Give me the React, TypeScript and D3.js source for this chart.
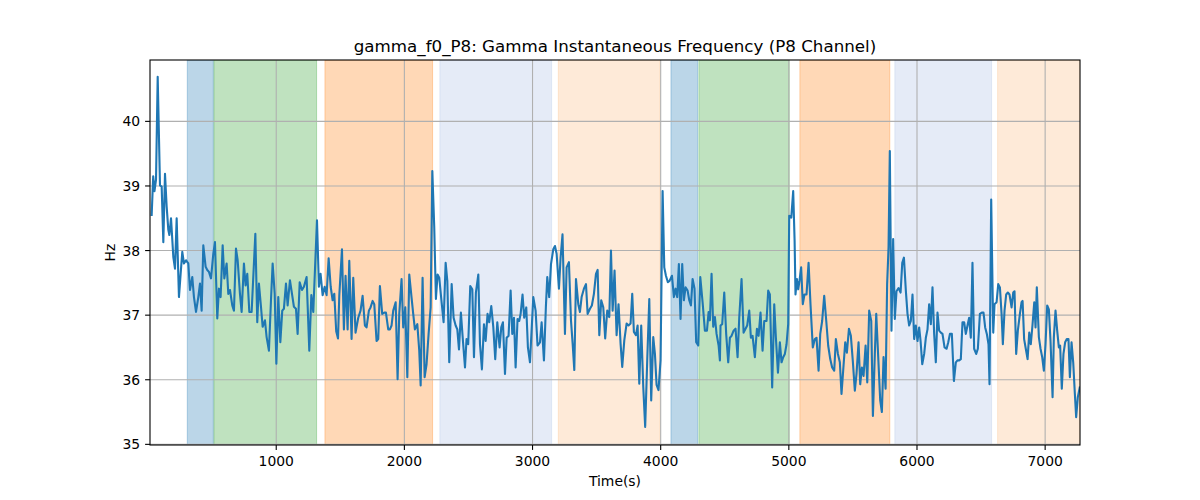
import React from "react";
import * as d3 from "d3";

// [time (s), Hz] samples, split by region
const hzA: [number, number][] = [
  [28, 38.55], [40, 39.15], [50, 38.92], [62, 39.1], [75, 40.69], [93, 39.01], [106, 38.99],
  [119, 38.13], [132, 39.19], [145, 38.68], [158, 38.32], [166, 38.24], [179, 38.5], [197, 37.9],
  [210, 37.72], [223, 38.5], [241, 37.28], [254, 37.64], [267, 37.98], [280, 37.8], [296, 37.85],
  [314, 37.8], [327, 37.39], [345, 37.59], [358, 37.28], [374, 37.05], [392, 37.28], [405, 37.49],
  [418, 37.07], [431, 38.08], [449, 37.75], [462, 37.7], [475, 37.67], [491, 37.57], [509, 37.95],
  [522, 38.13], [540, 36.95], [553, 37.41], [566, 37.28], [582, 38.08], [595, 37.57], [613, 37.8],
  [626, 37.33], [639, 37.39], [657, 37.15], [670, 37.07], [686, 38.03], [699, 37.85], [717, 37.33],
  [730, 37.05], [748, 37.8], [761, 37.46], [774, 37.64], [790, 37.05], [808, 37.05], [837, 38.26],
  [852, 36.89], [865, 37.49], [881, 37.13], [894, 36.82], [912, 36.92], [925, 36.66], [943, 36.45],
  [959, 37.23], [972, 37.8], [988, 37.33], [1001, 36.25], [1016, 37.28], [1032, 36.58], [1047, 37.07],
  [1060, 37.1], [1076, 37.49], [1089, 37.15], [1107, 37.54], [1123, 37.33], [1138, 37.13],
  [1154, 37.1], [1167, 36.71], [1183, 37.51], [1201, 37.39], [1216, 37.44], [1237, 37.59],
  [1258, 36.45], [1274, 37.31], [1289, 37.05], [1318, 38.47], [1333, 37.44], [1346, 37.64],
  [1362, 37.31], [1378, 37.44], [1393, 37.31], [1409, 37.88], [1425, 37.44], [1440, 37.23],
  [1453, 37.33], [1468, 36.75], [1482, 36.64],
];

const hzB: [number, number][] = [
  [1492, 37.3], [1513, 38.02], [1528, 36.78], [1541, 37.61], [1557, 36.78], [1570, 37.84],
  [1588, 36.63], [1601, 37.58], [1619, 36.73], [1640, 36.96], [1658, 37.07], [1674, 37.3],
  [1692, 36.84], [1705, 36.81], [1723, 37.07], [1736, 37.12], [1752, 37.22], [1765, 37.17],
  [1783, 36.6], [1796, 36.63], [1809, 37.45], [1827, 37.02], [1843, 37.04], [1856, 37.04],
  [1874, 36.78], [1887, 36.78], [1900, 36.84], [1913, 37.07], [1932, 37.2], [1947, 36.01],
  [1960, 37.02], [1978, 37.56], [1991, 36.81], [2007, 37.12], [2023, 36.04], [2038, 37.63],
  [2056, 37.27], [2069, 37.02], [2082, 36.78], [2101, 36.86], [2116, 36.45], [2127, 35.91],
  [2142, 37.58], [2158, 36.04], [2173, 36.24], [2189, 36.71], [2205, 37.12], [2218, 39.23],
  [2233, 38.36], [2246, 37.25], [2259, 37.63], [2272, 37.58], [2288, 37.25], [2306, 36.89],
  [2322, 37.81], [2335, 37.53], [2350, 36.27], [2369, 37.48], [2384, 36.96], [2400, 36.84],
  [2413, 36.78], [2426, 36.47], [2441, 37.04], [2457, 36.6], [2473, 36.19], [2485, 36.63],
  [2498, 36.55], [2514, 37.45], [2530, 37.4], [2543, 36.35], [2558, 37.35], [2577, 37.63],
  [2590, 36.55], [2605, 36.16], [2621, 36.86], [2634, 36.6], [2649, 37.02], [2662, 36.89],
  [2678, 37.14], [2694, 36.81], [2709, 36.32], [2725, 36.89], [2743, 36.5], [2756, 36.81],
  [2769, 36.89], [2785, 36.09], [2798, 36.65], [2813, 36.68], [2829, 37.38], [2842, 36.71],
  [2855, 36.96], [2868, 36.19], [2883, 36.94], [2896, 36.91], [2907, 37.02], [2922, 37.32],
  [2935, 36.96], [2951, 37.12], [2964, 36.5], [2980, 36.27],
];

const hzC: [number, number][] = [
  [3006, 37.28], [3024, 37.07], [3039, 36.53], [3058, 36.58], [3071, 36.89], [3089, 36.3],
  [3104, 37.12], [3115, 37.59], [3130, 37.28], [3144, 37.79], [3162, 38.02], [3175, 38.07],
  [3188, 37.95], [3206, 37.41], [3219, 37.89], [3234, 38.25], [3253, 36.71], [3266, 37.74],
  [3284, 37.82], [3300, 36.92], [3313, 36.56], [3326, 36.15], [3339, 37.56], [3357, 37.17],
  [3370, 37.05], [3383, 37.28], [3401, 37.41], [3417, 37.48], [3430, 37.02], [3448, 37.1],
  [3463, 37.15], [3479, 37.33], [3495, 37.64], [3508, 37.7], [3521, 36.69], [3536, 37.23],
  [3552, 37.12], [3567, 36.64], [3583, 37.07], [3599, 36.97], [3612, 38.0], [3625, 37.07],
  [3640, 37.69], [3656, 36.69], [3671, 37.17], [3687, 36.56], [3700, 36.2], [3716, 36.61],
  [3734, 36.87], [3749, 36.84], [3765, 36.87], [3778, 37.33], [3791, 36.74], [3807, 36.69],
  [3820, 36.84], [3833, 35.94], [3848, 36.84], [3864, 35.89], [3879, 35.27], [3895, 36.3],
  [3911, 37.25], [3926, 35.68], [3942, 36.66], [3955, 36.4], [3968, 35.92], [3983, 35.84],
  [3999, 36.3], [4015, 38.92], [4028, 37.74], [4041, 37.61], [4056, 37.51], [4069, 37.53],
  [4088, 37.61], [4103, 37.28], [4116, 37.41], [4129, 37.28], [4142, 37.79], [4155, 36.94],
  [4168, 37.79], [4181, 37.23], [4194, 37.43], [4210, 37.38], [4223, 37.23], [4236, 37.15],
  [4249, 37.56], [4264, 37.41], [4277, 36.58], [4293, 36.53], [4309, 37.59], [4327, 37.2],
  [4345, 36.76], [4361, 36.76], [4374, 37.05], [4384, 36.92], [4397, 37.64], [4410, 36.82],
  [4423, 36.97], [4436, 36.71], [4452, 36.53], [4462, 36.3],
];

const hzD: [number, number][] = [
  [4467, 36.84], [4480, 36.86], [4496, 37.35], [4511, 36.71], [4527, 36.27], [4540, 36.65],
  [4553, 36.68], [4569, 36.76], [4584, 36.79], [4600, 36.35], [4613, 36.96], [4631, 37.56],
  [4647, 36.73], [4662, 36.79], [4675, 36.84], [4691, 37.07], [4704, 36.65], [4717, 36.68],
  [4735, 36.35], [4751, 36.79], [4764, 36.68], [4779, 37.04], [4795, 36.45], [4808, 36.91],
  [4826, 36.91], [4839, 37.38], [4852, 37.32], [4870, 35.88], [4886, 37.17], [4899, 36.65],
  [4915, 36.11], [4930, 36.58], [4943, 36.27], [4956, 36.35], [4969, 36.4], [4982, 36.55],
  [4995, 36.86], [5003, 38.54], [5019, 38.51], [5034, 38.92], [5045, 38.15], [5052, 37.32],
  [5063, 37.56], [5073, 37.4], [5083, 37.53], [5096, 37.74], [5109, 37.17], [5122, 37.32],
  [5138, 37.32], [5154, 37.81], [5169, 37.17], [5187, 36.5], [5203, 36.63], [5216, 36.65],
  [5232, 36.14], [5245, 36.71], [5260, 36.91], [5276, 37.3], [5292, 36.91], [5307, 36.53],
  [5323, 36.32], [5338, 36.19], [5354, 36.14], [5367, 36.63], [5383, 36.4], [5398, 36.27],
  [5411, 35.78], [5424, 36.14], [5440, 36.58], [5453, 36.42], [5469, 36.79], [5484, 36.68],
  [5500, 36.27], [5515, 35.83], [5528, 36.09], [5544, 36.58], [5557, 35.93], [5570, 36.19],
  [5583, 36.06], [5599, 36.53], [5612, 35.96], [5627, 37.07], [5643, 36.91], [5656, 35.44],
  [5671, 36.4], [5682, 37.02], [5697, 36.37], [5713, 35.68], [5726, 35.5], [5739, 36.35],
  [5755, 35.86], [5767, 37.48], [5778, 38.05], [5788, 39.54], [5801, 36.76], [5814, 38.18],
  [5827, 36.94], [5840, 37.37], [5856, 37.42],
];

const hzE: [number, number][] = [
  [5872, 37.35], [5885, 37.81], [5898, 37.89], [5913, 37.38], [5926, 37.02], [5939, 36.84],
  [5952, 36.91], [5965, 37.32], [5978, 36.63], [5991, 36.84], [6004, 36.6], [6017, 36.81],
  [6028, 36.6], [6041, 36.24], [6056, 36.4], [6069, 36.65], [6082, 36.78], [6095, 37.17],
  [6108, 36.86], [6121, 37.43], [6134, 36.71], [6147, 36.27], [6160, 37.04], [6173, 36.76],
  [6186, 36.73], [6199, 36.71], [6215, 36.5], [6231, 36.48], [6244, 36.58], [6257, 36.71],
  [6272, 36.71], [6288, 35.98], [6303, 36.27], [6316, 36.3], [6329, 36.3], [6342, 36.32],
  [6355, 36.89], [6368, 36.89], [6381, 36.71], [6394, 36.84], [6407, 36.96], [6420, 36.65],
  [6433, 37.81], [6446, 36.48], [6462, 36.4], [6475, 36.48], [6491, 37.02], [6506, 37.04],
  [6519, 37.04], [6532, 36.81], [6545, 36.71], [6558, 36.55], [6566, 35.93], [6579, 38.79],
  [6595, 36.73], [6605, 37.17], [6621, 37.2], [6634, 37.48], [6647, 37.43], [6660, 37.02],
  [6670, 36.55], [6683, 37.07], [6696, 37.32], [6709, 37.35], [6722, 37.32], [6738, 37.12],
  [6751, 37.35], [6761, 37.37], [6774, 36.4], [6787, 36.76], [6803, 37.02], [6816, 37.2],
  [6824, 37.22], [6836, 36.63], [6849, 36.48], [6863, 36.32], [6876, 36.73], [6888, 36.55],
  [6901, 36.84], [6915, 37.2], [6925, 36.81], [6935, 37.43], [6951, 36.66], [6964, 36.48],
  [6977, 36.35], [6990, 36.14], [7003, 36.55], [7016, 37.15], [7029, 37.09], [7042, 36.6],
  [7058, 35.73], [7068, 36.66], [7081, 37.07], [7094, 36.76], [7107, 36.5], [7117, 36.53],
  [7130, 35.86], [7143, 36.4], [7156, 36.58], [7169, 36.63], [7182, 36.63], [7193, 36.04],
  [7206, 36.58], [7219, 36.27], [7232, 35.78], [7242, 35.42], [7255, 35.73], [7270, 35.88],
];

// shaded intervals (seconds) and their kinds
const spanStarts = [306, 514, 1380, 2277, 3201, 4080, 4298, 5086, 5827, 6629];
const spanEnds = [509, 1315, 2220, 3149, 3994, 4288, 5003, 5788, 6582, 7280];
const spanKinds = ["a", "b", "c", "d", "e", "a", "b", "c", "d", "e"];

const xTicks = [1000, 2000, 3000, 4000, 5000, 6000, 7000];
const yTicks = [35, 36, 37, 38, 39, 40];

const spanFill: Record<string, string> = {
  a: "#1f77b4",
  b: "#2ca02c",
  c: "#ff7f0e",
  d: "#adc2e6",
  e: "#fdbf86",
};

const W = 1200;
const H = 500;
const margin = { top: 60, right: 120, bottom: 55, left: 150 };
const font = "DejaVu Sans, sans-serif";

const App: React.FC = () => {
  const data = [...hzA, ...hzB, ...hzC, ...hzD, ...hzE];

  const x = d3
    .scaleLinear()
    .domain([15, 7272])
    .range([margin.left, W - margin.right]);
  const y = d3
    .scaleLinear()
    .domain([34.99, 40.95])
    .range([H - margin.bottom, margin.top]);

  const line = d3
    .line<[number, number]>()
    .x((d) => x(d[0]))
    .y((d) => y(d[1]));

  const x0 = margin.left;
  const x1 = W - margin.right;
  const y0 = H - margin.bottom;
  const y1 = margin.top;

  return (
    <svg width={W} height={H} style={{ display: "block", margin: -8 }}>
      <rect width={W} height={H} fill="#fff" />
      <defs>
        <clipPath id="plot">
          <rect x={x0} y={y1} width={x1 - x0} height={y0 - y1} />
        </clipPath>
      </defs>
      <g clipPath="url(#plot)">
        {spanStarts.map((s, i) => (
          <rect
            key={i}
            x={x(s)}
            y={y1}
            width={x(Math.min(spanEnds[i], 7272)) - x(s)}
            height={y0 - y1}
            fill={spanFill[spanKinds[i]]}
            fillOpacity={spanKinds[i] === "d" || spanKinds[i] === "e" ? 0.32 : 0.3}
            stroke={spanFill[spanKinds[i]]}
            strokeOpacity={0.3}
            strokeWidth={1}
          />
        ))}
        {xTicks.map((t) => (
          <line key={t} x1={x(t)} x2={x(t)} y1={y1} y2={y0} stroke="#b0b0b0" strokeWidth={1.1} />
        ))}
        {yTicks.map((t) => (
          <line key={t} x1={x0} x2={x1} y1={y(t)} y2={y(t)} stroke="#b0b0b0" strokeWidth={1.1} />
        ))}
        <path
          d={line(data) || ""}
          fill="none"
          stroke="#1f77b4"
          strokeWidth={2.1}
          strokeLinejoin="round"
          strokeLinecap="square"
        />
      </g>
      <rect x={x0} y={y1} width={x1 - x0} height={y0 - y1} fill="none" stroke="#000" strokeWidth={1.1} />
      {xTicks.map((t) => (
        <g key={t}>
          <line x1={x(t)} x2={x(t)} y1={y0} y2={y0 + 4.9} stroke="#000" strokeWidth={1.1} />
          <text x={x(t)} y={y0 + 20.5} textAnchor="middle" fontSize={13.9} fontFamily={font} fill="#000">
            {t}
          </text>
        </g>
      ))}
      {yTicks.map((t) => (
        <g key={t}>
          <line x1={x0 - 4.9} x2={x0} y1={y(t)} y2={y(t)} stroke="#000" strokeWidth={1.1} />
          <text x={x0 - 9.8} y={y(t) + 5} textAnchor="end" fontSize={13.9} fontFamily={font} fill="#000">
            {t}
          </text>
        </g>
      ))}
      <text x={(x0 + x1) / 2} y={486} textAnchor="middle" fontSize={13.9} fontFamily={font}>
        Time(s)
      </text>
      <text
        transform={`translate(115,${(y0 + y1) / 2}) rotate(-90)`}
        textAnchor="middle"
        fontSize={13.9}
        fontFamily={font}
      >
        Hz
      </text>
      <text x={(x0 + x1) / 2} y={52} textAnchor="middle" fontSize={16.7} fontFamily={font}>
        gamma_f0_P8: Gamma Instantaneous Frequency (P8 Channel)
      </text>
    </svg>
  );
};

export default App;
